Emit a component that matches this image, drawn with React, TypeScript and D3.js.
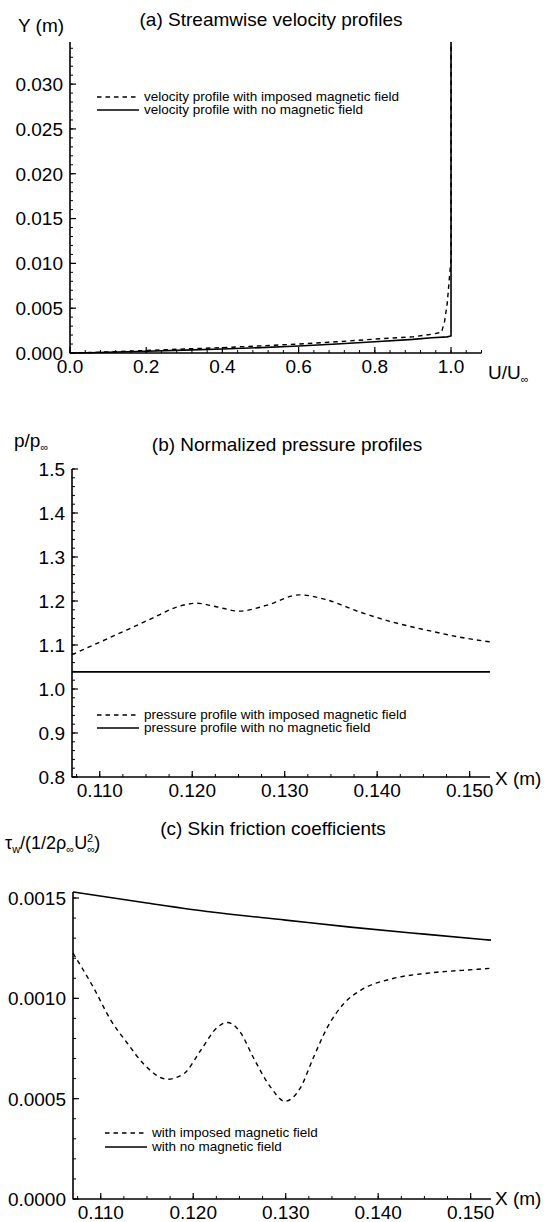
import React from "react";
import * as d3 from "d3";

const W = 551;
const H = 1222;
const FONT = "'Liberation Sans', Arial, Helvetica, sans-serif";

// ---------- Panel (a): streamwise velocity profiles ----------
const velU_noField = [0, 0.05, 0.1, 0.2, 0.3, 0.4, 0.5, 0.6, 0.7, 0.8, 0.9, 0.95, 0.99, 1.0, 1.0];
const velY_noField = [0, 0.00003, 0.00008, 0.0002, 0.00032, 0.00045, 0.0006, 0.00078, 0.001, 0.00126, 0.00152, 0.0017, 0.0018, 0.0019, 0.0347];
const velU_field = [0, 0.05, 0.1, 0.2, 0.3, 0.4, 0.5, 0.6, 0.7, 0.8, 0.9, 0.95, 0.975, 0.983, 0.99, 0.995, 1.0, 1.0];
const velY_field = [0, 0.00005, 0.00012, 0.00028, 0.00045, 0.0006, 0.0008, 0.001, 0.00125, 0.00155, 0.0018, 0.0021, 0.0023, 0.0035, 0.0055, 0.008, 0.0105, 0.0347];
const aXTicks = [0, 0.2, 0.4, 0.6, 0.8, 1.0];
const aYTicks = [0, 0.005, 0.01, 0.015, 0.02, 0.025, 0.03];

// ---------- Panel (b): normalized pressure profiles ----------
const presX = [0.107, 0.1129, 0.1157, 0.1183, 0.1205, 0.1226, 0.1251, 0.128, 0.1316, 0.1345, 0.1381, 0.1417, 0.1453, 0.1489, 0.1522];
const presField = [1.078, 1.134, 1.161, 1.186, 1.195, 1.187, 1.177, 1.19, 1.214, 1.203, 1.175, 1.152, 1.134, 1.118, 1.107];
const presXNo = [0.107, 0.115, 0.125, 0.135, 0.145, 0.1522];
const presNoField = [1.039, 1.039, 1.039, 1.039, 1.039, 1.039];
const bXTicks = [0.11, 0.12, 0.13, 0.14, 0.15];
const bYTicks = [0.8, 0.9, 1.0, 1.1, 1.2, 1.3, 1.4, 1.5];

// ---------- Panel (c): skin friction coefficients ----------
const cfX = [0.107, 0.1092, 0.1111, 0.1129, 0.1146, 0.1172, 0.119, 0.1208, 0.1226, 0.1237, 0.1251, 0.1265, 0.1284, 0.1299, 0.1316, 0.133, 0.1345, 0.1363, 0.1381, 0.1417, 0.1453, 0.1508, 0.1522];
const cfField = [0.001225, 0.001055, 0.00089, 0.000775, 0.000675, 0.000597, 0.000625, 0.00074, 0.000855, 0.00088, 0.00083, 0.000705, 0.000555, 0.000487, 0.000555, 0.000705, 0.000855, 0.000975, 0.00104, 0.0011, 0.001125, 0.001145, 0.00115];
const cfXNo = [0.107, 0.115, 0.122, 0.13, 0.137, 0.145, 0.1522];
const cfNoField = [0.00153, 0.001475, 0.00143, 0.00139, 0.001355, 0.00132, 0.00129];
const cXTicks = [0.11, 0.12, 0.13, 0.14, 0.15];
const cYTicks = [0, 0.0005, 0.001, 0.0015];

const DASH = "4.5,4";

type AxesProps = {
  x: d3.ScaleLinear<number, number>;
  y: d3.ScaleLinear<number, number>;
  xMajor: number[];
  yMajor: number[];
  xMinorStep: number;
  yMinorStep: number;
  xFmt: (v: number) => string;
  yFmt: (v: number) => string;
};

function Axes({ x, y, xMajor, yMajor, xMinorStep, yMinorStep, xFmt, yFmt }: AxesProps) {
  const [x0, x1] = x.range();
  const [y0, y1] = y.range();
  const [dx0, dx1] = x.domain();
  const [dy0, dy1] = y.domain();
  const xMinor: number[] = [];
  for (let v = Math.ceil(dx0 / xMinorStep - 1e-6) * xMinorStep; v <= dx1 + 1e-9; v += xMinorStep) xMinor.push(v);
  const yMinor: number[] = [];
  for (let v = Math.ceil(dy0 / yMinorStep - 1e-6) * yMinorStep; v <= dy1 + 1e-9; v += yMinorStep) yMinor.push(v);
  return (
    <g>
      <line x1={x0} x2={x0} y1={y0 + 0.5} y2={y1} stroke="#000" strokeWidth={1.6} />
      <line x1={x0} x2={x1} y1={y0} y2={y0} stroke="#000" strokeWidth={1.6} />
      {xMinor.map((v, i) => (
        <line key={"xm" + i} x1={x(v)} x2={x(v)} y1={y0} y2={y0 - 3} stroke="#000" strokeWidth={1} />
      ))}
      {yMinor.map((v, i) => (
        <line key={"ym" + i} x1={x0} x2={x0 + 3} y1={y(v)} y2={y(v)} stroke="#000" strokeWidth={1} />
      ))}
      {xMajor.map((v, i) => (
        <g key={"xM" + i}>
          <line x1={x(v)} x2={x(v)} y1={y0} y2={y0 - 6} stroke="#000" strokeWidth={1.2} />
          <text x={x(v)} y={y0 + 20} textAnchor="middle" fontSize={19}>
            {xFmt(v)}
          </text>
        </g>
      ))}
      {yMajor.map((v, i) => (
        <g key={"yM" + i}>
          <line x1={x0} x2={x0 + 6} y1={y(v)} y2={y(v)} stroke="#000" strokeWidth={1.2} />
          <text x={x0 - 7} y={y(v)} dy="0.36em" textAnchor="end" fontSize={19}>
            {yFmt(v)}
          </text>
        </g>
      ))}
    </g>
  );
}

function Legend({ x, y, gap, labels }: { x: number; y: number; gap: number; labels: string[] }) {
  return (
    <g>
      <line x1={x} x2={x + 42} y1={y} y2={y} stroke="#000" strokeWidth={1.3} strokeDasharray={DASH} />
      <text x={x + 47} y={y + 4} fontSize={13.5}>{labels[0]}</text>
      <line x1={x} x2={x + 42} y1={y + gap} y2={y + gap} stroke="#000" strokeWidth={1.5} />
      <text x={x + 47} y={y + gap + 4} fontSize={13.5}>{labels[1]}</text>
    </g>
  );
}

export default function App() {
  const xa = d3.scaleLinear().domain([0, 1.08]).range([70, 481.5]);
  const ya = d3.scaleLinear().domain([0, 0.0347]).range([353, 42]);
  const xb = d3.scaleLinear().domain([0.107, 0.1522]).range([72, 490]);
  const yb = d3.scaleLinear().domain([0.8, 1.5]).range([777, 469]);
  const xc = d3.scaleLinear().domain([0.107, 0.1522]).range([73, 491]);
  const yc = d3.scaleLinear().domain([0, 0.00153]).range([1199, 892]);

  const lineA = (us: number[], ys: number[]) =>
    d3.line<number>().x((_, i) => xa(us[i])).y((_, i) => ya(ys[i])).curve(d3.curveLinear)(us) || "";
  const lineB = (xs: number[], vs: number[]) =>
    d3.line<number>().x((_, i) => xb(xs[i])).y((_, i) => yb(vs[i])).curve(d3.curveMonotoneX)(xs) || "";
  const lineC = (xs: number[], vs: number[]) =>
    d3.line<number>().x((_, i) => xc(xs[i])).y((_, i) => yc(vs[i])).curve(d3.curveMonotoneX)(xs) || "";

  const f3 = d3.format(".3f");
  const f1 = d3.format(".1f");
  const f4 = d3.format(".4f");

  return (
    <svg
      width={W}
      height={H}
      viewBox={`0 0 ${W} ${H}`}
      style={{ position: "absolute", left: 0, top: 0, background: "#fff" }}
      fontFamily={FONT}
      fill="#000"
    >
      <rect x={0} y={0} width={W} height={H} fill="#fff" />

      {/* ---------- Panel (a) ---------- */}
      <text x={271} y={26} textAnchor="middle" fontSize={19}>(a) Streamwise velocity profiles</text>
      <text x={18} y={32} fontSize={19}>Y (m)</text>
      <Axes x={xa} y={ya} xMajor={aXTicks} yMajor={aYTicks} xMinorStep={0.04} yMinorStep={0.001} xFmt={f1} yFmt={f3} />
      <text x={488} y={379} fontSize={19}>
        U/U<tspan fontSize={11} dy={4}>∞</tspan>
      </text>
      <path d={lineA(velU_field, velY_field)} fill="none" stroke="#000" strokeWidth={1.4} strokeDasharray={DASH} />
      <path d={lineA(velU_noField, velY_noField)} fill="none" stroke="#000" strokeWidth={1.6} />
      <Legend x={97} y={97} gap={13} labels={["velocity profile with imposed magnetic field", "velocity profile with no magnetic field"]} />

      {/* ---------- Panel (b) ---------- */}
      <text x={287} y={451} textAnchor="middle" fontSize={19}>(b) Normalized pressure profiles</text>
      <text x={14} y={447} fontSize={19}>
        p/p<tspan fontSize={11} dy={4}>∞</tspan>
      </text>
      <Axes x={xb} y={yb} xMajor={bXTicks} yMajor={bYTicks} xMinorStep={0.0025} yMinorStep={0.02} xFmt={f3} yFmt={f1} />
      <text x={495} y={785} fontSize={19}>X (m)</text>
      <path d={lineB(presX, presField)} fill="none" stroke="#000" strokeWidth={1.4} strokeDasharray={DASH} />
      <path d={lineB(presXNo, presNoField)} fill="none" stroke="#000" strokeWidth={1.6} />
      <Legend x={97} y={715} gap={13} labels={["pressure profile with imposed magnetic field", "pressure profile with no magnetic field"]} />

      {/* ---------- Panel (c) ---------- */}
      <text x={273} y={835} textAnchor="middle" fontSize={19}>(c) Skin friction coefficients</text>
      <text x={5} y={849} fontSize={18}>
        τ<tspan fontSize={11} dy={4}>w</tspan>
        <tspan dy={-4}>/(1/2ρ</tspan>
        <tspan fontSize={11} dy={4}>∞</tspan>
        <tspan dy={-4}>U</tspan>
        <tspan fontSize={11} dy={4}>∞</tspan>
        <tspan fontSize={11} dx={-8} dy={-11}>2</tspan>
        <tspan dx={1} dy={7}>)</tspan>
      </text>
      <Axes x={xc} y={yc} xMajor={cXTicks} yMajor={cYTicks} xMinorStep={0.0025} yMinorStep={0.0001} xFmt={f3} yFmt={f4} />
      <text x={495} y={1205} fontSize={19}>X (m)</text>
      <path d={lineC(cfX, cfField)} fill="none" stroke="#000" strokeWidth={1.4} strokeDasharray={DASH} />
      <path d={lineC(cfXNo, cfNoField)} fill="none" stroke="#000" strokeWidth={1.6} />
      <Legend x={105} y={1133} gap={14} labels={["with imposed magnetic field", "with no magnetic field"]} />
    </svg>
  );
}
